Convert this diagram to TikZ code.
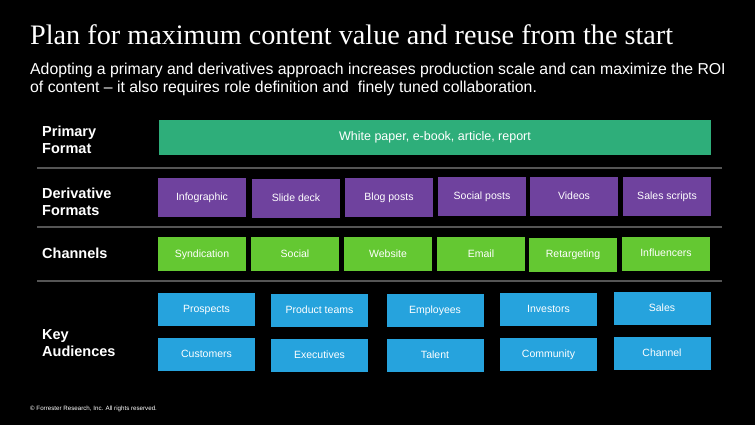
\documentclass[tikz,border=0pt]{standalone}
\usepackage{fontspec}
\setmainfont{Liberation Sans}
\newfontfamily\titlefont{Liberation Serif}
\usepackage{tikz}
\usetikzlibrary{backgrounds}
\definecolor{primgreen}{RGB}{46,174,122}
\definecolor{derivpurple}{RGB}{111,66,158}
\definecolor{changreen}{RGB}{100,200,50}
\definecolor{audblue}{RGB}{38,163,221}
\definecolor{rulegray}{RGB}{85,85,85}

\begin{document}
\begin{tikzpicture}[x=1pt,y=-1pt]
	\fill[black] (0,0) rectangle (755,425);
	\useasboundingbox (0,0) rectangle (755,425);

	% heading
	\node[anchor=base west, inner sep=0, text=white, font=\titlefont\fontsize{28.2}{32}\selectfont] (title) at (30,45) {Plan for maximum content value and reuse from the start};
	\node[anchor=north west, inner sep=0, text=white, align=left, font=\fontsize{15.8}{18}\selectfont] (sub) at (30,63) {Adopting a primary and derivatives approach increases production scale and can maximize the ROI\\of content -- it also requires role definition and\ \ finely tuned collaboration.};

	% row rules
	\draw[rulegray, line width=1.2pt] (37,168) -- (722,168);
	\draw[rulegray, line width=1.2pt] (37,227) -- (722,227);
	\draw[rulegray, line width=1.2pt] (37,281) -- (722,281);

	\begin{scope}[every node/.style={anchor=west, inner sep=0, align=left, text=white, font=\bfseries\fontsize{14.5}{17}\selectfont}]
		\node (lprim) at (42,140) {Primary\\Format};
		\node (lderiv) at (42,202) {Derivative\\Formats};
		\node (lchan) at (42,253) {Channels};
		\node (laud) at (42,343) {Key\\Audiences};
	\end{scope}

	\node[fill=primgreen, text=white, minimum width=552pt, minimum height=35pt, inner sep=0, text height=9pt, text depth=2pt, font=\fontsize{12.5}{14}\selectfont] (prim) at (435,137.5) {White paper, e-book, article, report};

	\begin{scope}[every node/.style={fill=derivpurple, text=white, minimum width=88pt, minimum height=39pt, inner sep=0, text height=8pt, text depth=1.6pt, font=\fontsize{10.5}{12}\selectfont}]
		\node (d1) at (202,197) {Infographic};
		\node (d2) at (296,198) {Slide deck};
		\node (d3) at (389,197) {Blog posts};
		\node (d4) at (482,196.5) {Social posts};
		\node (d5) at (574,196.5) {Videos};
		\node (d6) at (667,196.5) {Sales scripts};
	\end{scope}

	\begin{scope}[every node/.style={fill=changreen, text=white, minimum width=88pt, minimum height=34pt, inner sep=0, text height=8pt, text depth=1.6pt, font=\fontsize{10.5}{12}\selectfont}]
		\node (c1) at (202,254) {Syndication};
		\node (c2) at (295,254) {Social};
		\node (c3) at (388,254) {Website};
		\node (c4) at (481,254) {Email};
		\node (c5) at (573,254.5) {Retargeting};
		\node (c6) at (666,253.5) {Influencers};
	\end{scope}

	\begin{scope}[every node/.style={fill=audblue, text=white, minimum width=97pt, minimum height=33pt, inner sep=0, text height=8pt, text depth=1.6pt, font=\fontsize{10.5}{12}\selectfont}]
		\node (a1) at (206.5,309) {Prospects};
		\node (a2) at (319.5,310) {Product teams};
		\node (a3) at (435,310) {Employees};
		\node (a4) at (548.5,309) {Investors};
		\node (a5) at (662,308) {Sales};
		\node (a6) at (206.5,354.5) {Customers};
		\node (a7) at (319.5,355) {Executives};
		\node (a8) at (435,355) {Talent};
		\node (a9) at (548.5,354.5) {Community};
		\node (a10) at (662,353.5) {Channel};
	\end{scope}

	\node[anchor=base west, inner sep=0, text=white, font=\fontsize{6.2}{7}\selectfont] (foot) at (30,410) {\textcopyright\ Forrester Research, Inc. All rights reserved.};
\end{tikzpicture}
\end{document}
